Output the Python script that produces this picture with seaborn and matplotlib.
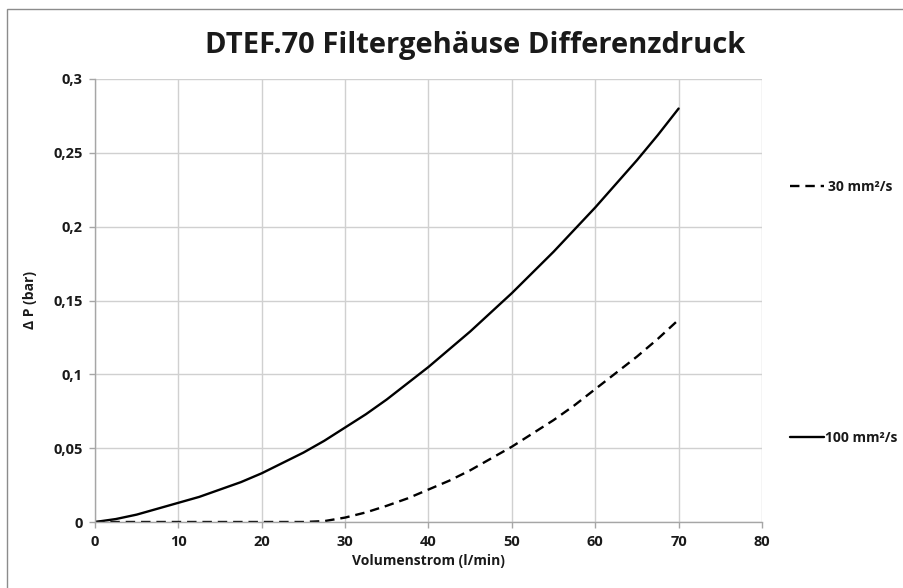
import matplotlib
matplotlib.use("Agg")
import matplotlib.pyplot as plt
import seaborn as sns
import pandas as pd
from matplotlib.lines import Line2D
from matplotlib.patches import Rectangle

# ---- data ----
flow_100 = [0, 2.5, 5, 7.5, 10, 12.5, 15, 17.5, 20, 22.5, 25, 27.5, 30, 32.5, 35,
            37.5, 40, 42.5, 45, 47.5, 50, 52.5, 55, 57.5, 60, 62.5, 65, 67.5, 70]
dp_100 = [0, 0.002, 0.005, 0.009, 0.013, 0.017, 0.022, 0.027, 0.033, 0.040, 0.047,
          0.055, 0.064, 0.073, 0.083, 0.094, 0.105, 0.117, 0.129, 0.142, 0.155,
          0.169, 0.183, 0.198, 0.213, 0.229, 0.245, 0.262, 0.280]

flow_30 = [0, 5, 10, 15, 20, 25, 27.5, 30, 32.5, 35, 37.5, 40, 42.5, 45, 47.5,
           50, 52.5, 55, 57.5, 60, 62.5, 65, 67.5, 70]
dp_30 = [0, 0, 0, 0, 0, 0, 0.0006, 0.003, 0.0065, 0.011, 0.016, 0.022, 0.028,
         0.035, 0.043, 0.051, 0.060, 0.069, 0.079, 0.090, 0.101, 0.112, 0.124, 0.137]

x_ticks = [0, 10, 20, 30, 40, 50, 60, 70, 80]
y_ticks = [0, 0.05, 0.1, 0.15, 0.2, 0.25, 0.3]
y_tick_labels = ["0", "0,05", "0,1", "0,15", "0,2", "0,25", "0,3"]

title = "DTEF.70 Filtergehäuse Differenzdruck"
x_label = "Volumenstrom (l/min)"
y_label = "Δ P (bar)"
label_30 = "30 mm²/s"
label_100 = "100 mm²/s"

sns.set_theme(style="white")
plt.rcParams["font.family"] = ["Open Sans", "DejaVu Sans"]

W, H = 904, 588
fig = plt.figure(figsize=(W / 100, H / 100), dpi=100)
ax = fig.add_axes([95 / W, 1 - 522 / H, (762 - 95) / W, (522 - 79) / H])

df100 = pd.DataFrame({"x": flow_100, "y": dp_100})
df30 = pd.DataFrame({"x": flow_30, "y": dp_30})
sns.lineplot(data=df100, x="x", y="y", ax=ax, color="black", lw=1.7)
sns.lineplot(data=df30, x="x", y="y", ax=ax, color="black", lw=1.7,
             linestyle=(0, (4, 2.5)))

ax.set_xlim(0, 80)
ax.set_ylim(0, 0.3)
ax.set_xticks(x_ticks)
ax.set_xticklabels([str(v) for v in x_ticks])
ax.set_yticks(y_ticks)
ax.set_yticklabels(y_tick_labels)
ax.grid(True, color="#d0d0d0", lw=1.0)
ax.set_axisbelow(True)
for s in ["top", "right"]:
    ax.spines[s].set_visible(False)
for s in ["left", "bottom"]:
    ax.spines[s].set_color("#a6a6a6")
    ax.spines[s].set_linewidth(1.0)
ax.tick_params(axis="both", direction="out", length=4, width=1, color="#a6a6a6",
               labelsize=10.5, pad=5, labelcolor="#1a1a1a")
ax.tick_params(axis="y", left=True)
ax.tick_params(axis="x", bottom=True)
for lab in ax.get_xticklabels() + ax.get_yticklabels():
    lab.set_fontweight("bold")

ax.set_xlabel(x_label, fontsize=10, fontweight="bold", color="#1a1a1a", labelpad=4)
ax.set_ylabel(y_label, fontsize=10, fontweight="bold", color="#1a1a1a", labelpad=2)
ax.yaxis.set_label_coords((37 - 95) / (762 - 95), (522 - 300) / (522 - 79))

fig.text(475 / W, 1 - 45 / H, title, ha="center", va="center",
         fontsize=21, fontweight="bold", color="#1a1a1a")

# legend entries placed on the right like the reference
h30 = Line2D([], [], color="black", lw=1.7, linestyle=(0, (4, 2.5)))
h100 = Line2D([], [], color="black", lw=1.7)
leg1 = fig.legend([h30], [label_30], loc="center left",
                  bbox_to_anchor=(778 / W, 1 - 187 / H), frameon=False,
                  handlelength=2.4, handletextpad=0.3,
                  prop={"weight": "bold", "size": 10})
leg2 = fig.legend([h100], [label_100], loc="center left",
                  bbox_to_anchor=(778 / W, 1 - 438 / H), frameon=False,
                  handlelength=2.4, handletextpad=0.1,
                  prop={"weight": "bold", "size": 10})
for lg in (leg1, leg2):
    for t in lg.get_texts():
        t.set_color("#1a1a1a")

# outer chart border
fig.patches.append(Rectangle((7 / W, -0.05), 1.1, 1 - 9 / H + 0.05,
                             transform=fig.transFigure, fill=False,
                             edgecolor="#8c8c8c", lw=1.0))

fig.savefig("out.png", dpi=100)
